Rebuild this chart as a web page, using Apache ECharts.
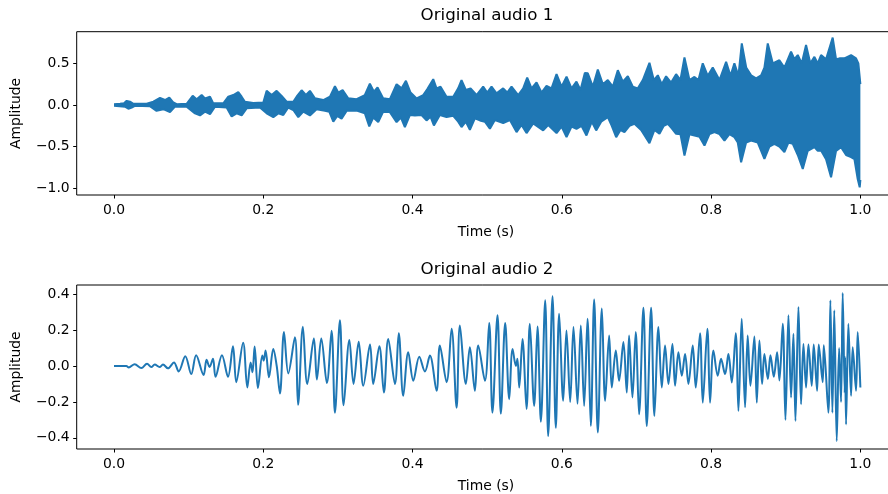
<!DOCTYPE html>
<html>
<head>
<meta charset="utf-8">
<script src="https://cdn.jsdelivr.net/npm/echarts@6/dist/echarts.min.js"></script>
<style>
html,body{margin:0;padding:0;background:#fff;}
#c{width:888px;height:494px;}
</style>
</head>
<body>
<div id="c"></div>
<script>
// ---------- Data ----------
const titles = ['Original audio 1', 'Original audio 2'];
const xLabel = 'Time (s)';
const yLabel = 'Amplitude';
const xTicks = [0.0, 0.2, 0.4, 0.6, 0.8, 1.0];
const yTicks1 = [-1.0, -0.5, 0.0, 0.5];
const yTicks2 = [-0.4, -0.2, 0.0, 0.2, 0.4];

// Audio 1: upper envelope of the dense waveform (time, amplitude)
const tUp1 = [
  0, .008, .0134, .017, .0214, .026, .0437, .0527, .0616, .0683,
  .0741, .0795, .084, .0973, .1054, .1107, .1174, .1219, .1286, .133,
  .1464, .1531, .1598, .1665, .171, .1754, .1866, .2, .2045, .2112,
  .2179, .2246, .2313, .2402, .2446, .2513, .2571, .2625, .2692, .2804,
  .2893, .296, .3004, .3063, .3138, .325, .3361, .3428, .3482, .3531,
  .3607, .3696, .3786, .3853, .3911, .3973, .4054, .4143, .4196, .4277,
  .4321, .4375, .4455, .4545, .4611, .4656, .4714, .4777, .4857, .4946,
  .5, .5058, .5125, .5214, .5268, .5326, .5415, .5482, .5536, .5594,
  .5661, .5728, .5795, .5862, .5929, .5996, .6063, .613, .6196, .625,
  .6308, .6348, .6415, .6482, .6549, .6616, .6683, .675, .6817, .6884,
  .6951, .7018, .7085, .7174, .7232, .7286, .7339, .7397, .7464, .7531,
  .7589, .7643, .771, .7777, .783, .7888, .7955, .8022, .8112, .8201,
  .826, .8312, .8366, .8411, .847, .8536, .8603, .867, .8714, .8759,
  .8826, .8915, .8982, .9071, .9116, .9161, .9214, .9272, .933, .9384,
  .9429, .9473, .954, .9629, .9674, .9719, .9786, .9875, .9942, .9973,
  1.0
];
const ampUp1 = [
  .01, .015, .02, .05, .04, .015, .015, .04, .085, .06,
  .09, .03, .01, .015, .11, .07, .12, .08, .10, .02,
  .02, .10, .12, .155, .10, .04, .025, .03, .17, .12,
  .17, .11, .04, .04, .10, .177, .12, .17, .08, .06,
  .10, .225, .15, .18, .08, .07, .12, .257, .16, .21,
  .08, .07, .25, .20, .29, .15, .08, .12, .19, .31,
  .20, .22, .10, .10, .20, .30, .18, .20, .12, .22,
  .15, .22, .14, .20, .15, .22, .12, .20, .33, .20,
  .27, .15, .23, .20, .37, .22, .34, .20, .28, .18,
  .385, .38, .22, .426, .25, .30, .22, .418, .28, .345,
  .22, .20, .30, .506, .30, .357, .25, .345, .27, .37,
  .30, .57, .30, .337, .30, .50, .35, .45, .30, .518,
  .35, .50, .35, .739, .45, .357, .32, .357, .45, .739,
  .50, .538, .45, .64, .55, .60, .50, .72, .50, .578,
  .50, .60, .55, .81, .55, .56, .56, .60, .56, .50,
  .25
];
// Audio 1: lower envelope
const tLow1 = [
  0, .0147, .0192, .0237, .028, .048, .057, .066, .075, .0817,
  .0973, .1085, .1152, .1219, .1286, .1353, .1509, .1576, .1643, .171,
  .1777, .1955, .2045, .2134, .2201, .2268, .2335, .2402, .2469, .2536,
  .2625, .2714, .2826, .2884, .2938, .2991, .3049, .3116, .325, .3361,
  .342, .3473, .354, .3607, .3696, .3786, .3844, .3897, .3964, .4031,
  .412, .4187, .424, .4286, .4366, .4455, .4545, .4611, .4656, .4714,
  .4768, .4835, .4902, .4969, .5036, .5103, .5214, .5304, .5393, .546,
  .5527, .5616, .575, .5817, .5929, .5996, .6063, .613, .6196, .6263,
  .633, .6402, .646, .6527, .6616, .6669, .6728, .6786, .6839, .6906,
  .6973, .7062, .7174, .7241, .7308, .7366, .742, .7473, .7531, .7589,
  .7643, .771, .7777, .7844, .7911, .7978, .8045, .8112, .8179, .8246,
  .8312, .8357, .8402, .8469, .8536, .8625, .8714, .8781, .8848, .8915,
  .8982, .9036, .9094, .9161, .9228, .9295, .9384, .9429, .9473, .954,
  .9607, .9674, .9741, .9808, .9875, .992, .9964, .9991, 1.0
];
const ampLow1 = [
  -.01, -.02, -.045, -.03, -.01, -.015, -.07, -.05, -.085, -.02,
  -.02, -.10, -.125, -.08, -.11, -.02, -.03, -.137, -.10, -.125,
  -.04, -.03, -.10, -.145, -.10, -.12, -.03, -.06, -.145, -.08,
  -.125, -.05, -.07, -.08, -.20, -.13, -.165, -.07, -.065, -.10,
  -.257, -.15, -.205, -.08, -.085, -.205, -.15, -.265, -.12, -.125,
  -.12, -.185, -.14, -.245, -.12, -.145, -.13, -.20, -.265, -.20,
  -.297, -.16, -.185, -.20, -.285, -.18, -.217, -.18, -.325, -.24,
  -.337, -.22, -.305, -.24, -.337, -.26, -.385, -.26, -.285, -.25,
  -.365, -.20, -.305, -.20, -.145, -.25, -.386, -.30, -.325, -.25,
  -.225, -.30, -.458, -.30, -.345, -.25, -.225, -.28, -.345, -.35,
  -.606, -.35, -.365, -.38, -.486, -.35, -.325, -.35, -.426, -.35,
  -.386, -.45, -.687, -.45, -.426, -.45, -.647, -.50, -.466, -.50,
  -.566, -.45, -.466, -.60, -.767, -.55, -.506, -.55, -.546, -.65,
  -.867, -.55, -.506, -.60, -.626, -.65, -.888, -.988, -.90
];

// Audio 2: waveform extrema (time, amplitude)
const t2 = [
  0, .0165, .0197, .0277, .0366, .0442, .05, .0545, .061, .0656,
  .0723, .0803, .0866, .0955, .1035, .11, .12, .124, .128, .1326,
  .136, .1446, .1527, .1594, .1638, .173, .1786, .183, .1855, .1884,
  .1928, .1987, .2005, .2031, .2076, .2134, .218, .2223, .2277, .2335,
  .2424, .2466, .253, .2589, .2678, .2718, .2777, .2852, .2915, .296,
  .3027, .3076, .3153, .3209, .3278, .334, .343, .3473, .3555, .3616,
  .3674, .3764, .3815, .3875, .3942, .401, .409, .4166, .4232, .4322,
  .4366, .4456, .4523, .459, .4634, .4714, .4768, .4835, .488, .497,
  .5027, .507, .5138, .5183, .5241, .5295, .534, .5385, .5405, .5429,
  .5473, .5527, .5571, .5629, .5674, .5719, .5777, .5817, .5875, .5919,
  .5964, .6018, .6062, .6112, .6156, .621, .6254, .6299, .6344, .6388,
  .6433, .6482, .6536, .658, .6634, .6669, .6723, .6767, .6825, .687,
  .6901, .6946, .699, .7035, .7093, .7138, .7196, .724, .7294, .7339,
  .7383, .7428, .7482, .7517, .7562, .7607, .7651, .7696, .7754, .7794,
  .7852, .7888, .795, .7986, .8031, .8089, .8133, .8187, .8232, .8277,
  .833, .8366, .841, .8455, .849, .8527, .858, .8612, .8647, .8683,
  .8714, .876, .8795, .884, .8884, .8915, .896, .8996, .9036, .9071,
  .9103, .913, .917, .9205, .9237, .9272, .9304, .9348, .9375, .942,
  .9442, .9495, .951, .9571, .9598, .9625, .965, .9683, .9715, .9741,
  .9763, .979, .9795, .9808, .9839, .9875, .9897, .9942, .9964, 1.0
];
const a2 = [
  0, 0, -.008, .01, -.011, .013, -.006, .008, -.006, .008,
  -.013, .02, -.03, .055, -.045, .06, -.05, .035, -.005, .04,
  -.06, .06, -.06, .11, -.09, .13, -.12, .02, -.035, .108,
  -.123, .058, .03, .086, -.063, .095, 0, -.153, .189, -.041,
  .16, -.216, .218, -.10, .153, -.075, .153, -.095, .197, -.26,
  .255, -.218, .145, -.10, .135, -.11, .12, -.10, .11, -.148,
  .151, -.10, .183, -.166, .077, -.082, .052, -.03, .058, -.138,
  .114, -.09, .207, -.232, .226, -.10, .105, -.138, .114, -.082,
  .24, -.26, .282, -.265, .239, -.185, .095, 0, .04, -.12,
  .151, -.24, .235, -.222, .22, -.31, .366, -.39, .388, -.344,
  .291, -.194, .198, -.20, .217, -.21, .226, -.222, .263, -.334,
  .37, -.37, .32, -.194, .17, -.12, .086, -.082, .133, -.148,
  .17, -.175, .189, -.269, .325, -.334, .325, -.278, .217, -.12,
  .114, -.10, .123, -.11, .077, -.054, .067, -.10, .114, -.12,
  .183, -.204, .207, -.204, .086, -.054, .04, -.045, .067, -.092,
  .183, -.25, .263, -.23, .17, -.11, .164, -.204, .142, -.10,
  .067, -.073, .06, -.06, .077, -.08, .235, -.30, .282, -.175,
  .179, -.306, .329, -.213, .123, -.12, .12, -.11, .12, -.138,
  .12, -.09, .115, -.26, .366, -.26, .31, -.418, .10, -.20,
  .407, -.15, .05, -.325, .235, -.166, .105, -.138, .189, -.12
];

// ---------- Chart ----------
const BLUE = '#1f77b4';
const FONT = 'DejaVu Sans';
const pair = (ts, vs) => ts.map((t, i) => [t, vs[i]]);
const fmt = v => (v < 0 ? '\u2212' : '') + Math.abs(v).toFixed(1);

const chart = echarts.init(document.getElementById('c'), null, {renderer: 'canvas'});

function xAxisDef(gi) {
  return {
    type: 'value', gridIndex: gi, min: -0.05, max: 1.05,
    axisLine: {show: false, onZero: false},
    splitLine: {show: false},
    axisTick: {show: true, inside: false, length: 3.5, customValues: xTicks,
      lineStyle: {color: '#000', width: 1}},
    axisLabel: {show: true, customValues: xTicks, formatter: fmt, margin: 8,
      color: '#000', fontSize: 13.9, fontFamily: FONT}
  };
}
function yAxisDef(gi, min, max, ticks) {
  return {
    type: 'value', gridIndex: gi, min: min, max: max,
    axisLine: {show: false, onZero: false},
    splitLine: {show: false},
    axisTick: {show: true, inside: false, length: 3.5, customValues: ticks,
      lineStyle: {color: '#000', width: 1}},
    axisLabel: {show: true, customValues: ticks, formatter: fmt, margin: 7,
      color: '#000', fontSize: 13.9, fontFamily: FONT}
  };
}
const lineCommon = {
  type: 'line', showSymbol: false, symbol: 'none', animation: false,
  sampling: null, clip: true,
  lineStyle: {color: BLUE, width: 2}, itemStyle: {color: BLUE}
};
const txt = (text, x, y, size, rot) => ({
  type: 'text', x: x, y: y, rotation: rot || 0, silent: true,
  style: {text: text, fill: '#000', font: size + 'px "' + FONT + '"',
    textAlign: 'center', textVerticalAlign: 'middle'}
});

chart.setOption({
  animation: false,
  backgroundColor: '#fff',
  grid: [
    {left: 76.7, top: 31.7, width: 821, height: 163.3, show: true,
     outerBoundsMode: 'none', containLabel: false,
     borderColor: '#000', borderWidth: 1, backgroundColor: 'transparent'},
    {left: 76.7, top: 285, width: 821, height: 164, show: true,
     outerBoundsMode: 'none', containLabel: false,
     borderColor: '#000', borderWidth: 1, backgroundColor: 'transparent'}
  ],
  xAxis: [xAxisDef(0), xAxisDef(1)],
  yAxis: [yAxisDef(0, -1.08, 0.88, yTicks1), yAxisDef(1, -0.462, 0.451, yTicks2)],
  series: [
    Object.assign({}, lineCommon, {xAxisIndex: 0, yAxisIndex: 0,
      data: pair(tUp1, ampUp1), areaStyle: {color: BLUE, opacity: 1}}),
    Object.assign({}, lineCommon, {xAxisIndex: 0, yAxisIndex: 0,
      data: pair(tLow1, ampLow1), areaStyle: {color: BLUE, opacity: 1}}),
    Object.assign({}, lineCommon, {xAxisIndex: 1, yAxisIndex: 1, smooth: 0.35,
      data: pair(t2, a2)})
  ],
  graphic: [
    txt(titles[0], 487, 15.5, 16.7),
    txt(titles[1], 487, 270, 16.7),
    txt(xLabel, 486, 232.5, 13.9),
    txt(xLabel, 486, 486.5, 13.9),
    txt(yLabel, 16, 113.5, 13.9, Math.PI / 2),
    txt(yLabel, 16, 367, 13.9, Math.PI / 2)
  ]
});
</script>
</body>
</html>
